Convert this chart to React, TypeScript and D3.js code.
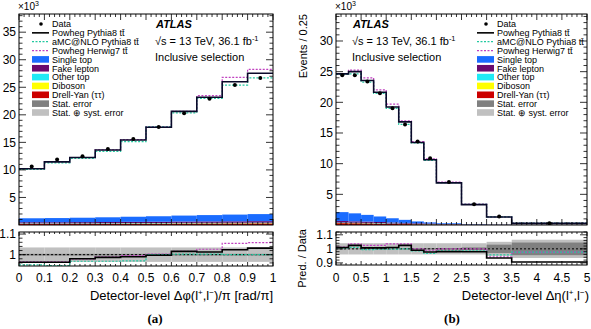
import React from 'react';
import * as d3 from 'd3';

// ---- (a) detector-level delta phi / pi, events in units of 10^3
const phiEdges = [0, 0.1, 0.2, 0.3, 0.4, 0.5, 0.6, 0.7, 0.8, 0.9, 1.0];
const phiData = [10.6, 11.9, 12.5, 13.8, 15.6, 17.8, 20.3, 22.9, 25.4, 26.7];
const phiPowhegPy8 = [10.21, 11.46, 12.25, 13.62, 15.44, 17.75, 20.62, 23.2, 26.01, 27.55];
const phiAmcPy8 = [10.07, 11.27, 12.1, 13.36, 15.13, 17.8, 20.36, 22.97, 25.4, 26.7];
const phiPowhegH7 = [10.23, 11.48, 12.25, 13.66, 15.52, 17.85, 20.62, 23.5, 26.8, 28.25];
const phiSingleTop = [0.72, 0.76, 0.8, 0.86, 0.93, 1.0, 1.08, 1.15, 1.22, 1.28];
const phiFake = [0.2, 0.2, 0.21, 0.21, 0.22, 0.23, 0.24, 0.25, 0.26, 0.27];
const phiOtherTop = [0.06, 0.06, 0.06, 0.07, 0.07, 0.07, 0.08, 0.08, 0.08, 0.09];
const phiDiboson = [0.04, 0.04, 0.04, 0.04, 0.05, 0.05, 0.05, 0.05, 0.05, 0.05];
const phiDrellYan = [0.2, 0.2, 0.21, 0.22, 0.23, 0.24, 0.26, 0.27, 0.28, 0.29];
const phiStatErr = [0.004, 0.004, 0.004, 0.004, 0.004, 0.004, 0.004, 0.004, 0.004, 0.004];
const phiTotErr = [0.035, 0.035, 0.035, 0.035, 0.035, 0.035, 0.035, 0.035, 0.035, 0.035];

// ---- (b) detector-level delta eta, events / 0.25 in units of 10^3
const etaEdges = [0, 0.25, 0.5, 0.75, 1.0, 1.25, 1.5, 1.75, 2.0, 2.5, 3.0, 3.5, 5.0];
const etaData = [24.4, 24.4, 23.4, 21.5, 19.05, 16.4, 13.6, 10.9, 7.0, 3.4, 1.39, 0.3];
const etaPowhegPy8 = [24.64, 25.01, 23.56, 21.65, 19.24, 16.81, 13.46, 10.65, 6.86, 3.33, 1.3, 0.272];
const etaAmcPy8 = [24.57, 24.64, 23.28, 21.46, 19.01, 16.4, 13.4, 10.54, 6.9, 3.35, 1.33, 0.293];
const etaPowhegH7 = [24.69, 25.25, 23.99, 22.04, 19.72, 16.97, 13.6, 10.79, 7.0, 3.4, 1.31, 0.293];
const etaSingleTop = [1.45, 1.3, 1.1, 0.9, 0.7, 0.5, 0.3, 0.18, 0.12, 0.06, 0.03, 0.01];
const etaFake = [0.25, 0.22, 0.2, 0.18, 0.15, 0.12, 0.1, 0.08, 0.05, 0.03, 0.02, 0.01];
const etaOtherTop = [0.07, 0.07, 0.06, 0.06, 0.05, 0.05, 0.04, 0.04, 0.03, 0.02, 0.01, 0.005];
const etaDiboson = [0.03, 0.03, 0.03, 0.03, 0.02, 0.02, 0.02, 0.02, 0.01, 0.01, 0.005, 0.002];
const etaDrellYan = [0.3, 0.28, 0.26, 0.22, 0.18, 0.15, 0.12, 0.1, 0.07, 0.04, 0.02, 0.01];
const etaStatErr = [0.003, 0.003, 0.003, 0.003, 0.003, 0.004, 0.004, 0.005, 0.006, 0.01, 0.03, 0.045];
const etaTotErr = [0.04, 0.04, 0.04, 0.04, 0.04, 0.04, 0.04, 0.04, 0.04, 0.04, 0.05, 0.065];

const legendItems = [
  { label: 'Data', kind: 'dot' },
  { label: 'Powheg Pythia8 tt\u0304', kind: 'line', color: '#000', dash: '' },
  { label: 'aMC@NLO Pythia8 tt\u0304', kind: 'line', color: '#22c9a0', dash: '2,1.5' },
  { label: 'Powheg Herwig7 tt\u0304', kind: 'line', color: '#c040c0', dash: '2,1.5' },
  { label: 'Single top', kind: 'box', color: '#1a6cff' },
  { label: 'Fake lepton', kind: 'box', color: '#6a0a6e' },
  { label: 'Other top', kind: 'box', color: '#20eaf5' },
  { label: 'Diboson', kind: 'box', color: '#ffff00' },
  { label: 'Drell-Yan (\u03c4\u03c4)', kind: 'box', color: '#cc0000' },
  { label: 'Stat. error', kind: 'box', color: '#808080' },
  { label: 'Stat. \u2295 syst. error', kind: 'box', color: '#c0c0c0' },
];

const font = '"Liberation Sans", Arial, Helvetica, sans-serif';

function stepPath(edges: number[], vals: number[], x: any, y: any) {
  const pts: [number, number][] = vals.map((v, i) => [edges[i], v]);
  pts.push([edges[edges.length - 1], vals[vals.length - 1]]);
  return d3.line<[number, number]>()
    .x(d => x(d[0]))
    .y(d => y(d[1]))
    .curve(d3.curveStepAfter)(pts) || '';
}

function Panel(props: any) {
  const { id, edges, data, py8, amc, h7, bkg, statErr, totErr, cfg } = props;
  const { x0, x1, top, bot, rTop, rBot, yMax, rDom, xMajor, xMinor, yLabels, rMajor, rMinor } = cfg;

  const x = d3.scaleLinear().domain([edges[0], edges[edges.length - 1]]).range([x0, x1]);
  const y = d3.scaleLinear().domain([0, yMax]).range([bot, top]);
  const r = d3.scaleLinear().domain(rDom).range([rBot, rTop]);

  const bins = data.map((_: number, i: number) => i);
  const keys = ['dy', 'diboson', 'other', 'fake', 'single'];
  const colors: any = { dy: '#cc0000', diboson: '#ffff00', other: '#20eaf5', fake: '#6a0a6e', single: '#1a6cff' };
  const stacked = d3.stack<number>().keys(keys).value((i, k) => bkg[k][i])(bins);

  const yMinor = d3.range(1, Math.floor(yMax) + 1);
  const rMinorTicks = d3.range(rMinor[0], rDom[1], rMinor[1]);

  const ratio = (arr: number[]) => arr.map((v, i) => v / data[i]);

  return (
    <g fontFamily={font}>
      <defs>
        <clipPath id={id + 'main'}><rect x={x0} y={top} width={x1 - x0} height={bot - top} /></clipPath>
        <clipPath id={id + 'ratio'}><rect x={x0} y={rTop} width={x1 - x0} height={rBot - rTop} /></clipPath>
      </defs>

      {/* main panel */}
      <g clipPath={`url(#${id}main)`}>
        {stacked.map(layer => (
          <g key={layer.key} fill={colors[layer.key]}>
            {layer.map((d, i) => (
              <rect key={i} x={x(edges[i])} width={x(edges[i + 1]) - x(edges[i])}
                y={y(d[1])} height={Math.max(0, y(d[0]) - y(d[1]))} />
            ))}
          </g>
        ))}
        <path d={stepPath(edges, h7, x, y)} fill="none" stroke="#c040c0" strokeWidth={1.2} strokeDasharray="2,1.5" />
        <path d={stepPath(edges, amc, x, y)} fill="none" stroke="#22c9a0" strokeWidth={1.2} strokeDasharray="2,1.5" />
        <path d={stepPath(edges, py8, x, y)} fill="none" stroke="#0a0a2a" strokeWidth={1.6} />
        {data.map((v: number, i: number) => (
          <circle key={i} cx={x((edges[i] + edges[i + 1]) / 2)} cy={y(v)} r={2} fill="#000" />
        ))}
      </g>
      <rect x={x0} y={top} width={x1 - x0} height={bot - top} fill="none" stroke="#000" strokeWidth={1} />

      {/* main y ticks */}
      {yMinor.map((v: number) => {
        const major = v % 5 === 0;
        const len = major ? 7 : 3.5;
        return (
          <g key={v} stroke="#000" strokeWidth={0.8}>
            <line x1={x0} x2={x0 + len} y1={y(v)} y2={y(v)} />
            <line x1={x1} x2={x1 - len} y1={y(v)} y2={y(v)} />
          </g>
        );
      })}
      {yLabels.map((v: number) => (
        <text key={v} x={x0 - 3} y={y(v) + 4.3} textAnchor="end" fontSize={12}>{v}</text>
      ))}
      <text x={x0 - 1} y={10} fontSize={10}>
        ×10<tspan dy={-4} fontSize={7}>3</tspan>
      </text>

      {/* x ticks on main and ratio frames */}
      {d3.range(edges[0], edges[edges.length - 1] + 1e-9, xMinor).map((v: number, i: number) => {
        const major = Math.abs(v / xMajor - Math.round(v / xMajor)) < 1e-6;
        const len = major ? 6 : 3;
        const rl = major ? 4 : 2;
        return (
          <g key={i} stroke="#000" strokeWidth={0.8}>
            <line x1={x(v)} x2={x(v)} y1={bot} y2={bot - len} />
            <line x1={x(v)} x2={x(v)} y1={top} y2={top + len} />
            <line x1={x(v)} x2={x(v)} y1={rBot} y2={rBot - rl} />
            <line x1={x(v)} x2={x(v)} y1={rTop} y2={rTop + rl} />
          </g>
        );
      })}

      {/* ratio panel */}
      <g clipPath={`url(#${id}ratio)`}>
        {bins.map((i: number) => (
          <rect key={'t' + i} x={x(edges[i])} width={x(edges[i + 1]) - x(edges[i])}
            y={r(1 + totErr[i])} height={r(1 - totErr[i]) - r(1 + totErr[i])} fill="#c0c0c0" />
        ))}
        {bins.map((i: number) => (
          <rect key={'s' + i} x={x(edges[i])} width={x(edges[i + 1]) - x(edges[i])}
            y={r(1 + statErr[i])} height={r(1 - statErr[i]) - r(1 + statErr[i])} fill="#808080" />
        ))}
        <line x1={x0} x2={x1} y1={r(1)} y2={r(1)} stroke="#000" strokeWidth={1} strokeDasharray="2,2" />
        <path d={stepPath(edges, ratio(h7), x, r)} fill="none" stroke="#c040c0" strokeWidth={1.2} strokeDasharray="2,1.5" />
        <path d={stepPath(edges, ratio(amc), x, r)} fill="none" stroke="#22c9a0" strokeWidth={1.2} strokeDasharray="2,1.5" />
        <path d={stepPath(edges, ratio(py8), x, r)} fill="none" stroke="#000" strokeWidth={1.6} />
      </g>
      <rect x={x0} y={rTop} width={x1 - x0} height={rBot - rTop} fill="none" stroke="#000" strokeWidth={1} />
      {rMinorTicks.map((v: number, i: number) => {
        const major = rMajor.some((m: number) => Math.abs(m - v) < 1e-6);
        const len = major ? 7 : 3.5;
        return (
          <g key={i} stroke="#000" strokeWidth={0.8}>
            <line x1={x0} x2={x0 + len} y1={r(v)} y2={r(v)} />
            <line x1={x1} x2={x1 - len} y1={r(v)} y2={r(v)} />
          </g>
        );
      })}
      {rMajor.map((v: number) => (
        <text key={v} x={x0 - 3} y={r(v) + 4.3} textAnchor="end" fontSize={12}>{d3.format('~g')(v)}</text>
      ))}
      {d3.range(edges[0], edges[edges.length - 1] + 1e-9, xMajor).map((v: number, i: number) => (
        <text key={i} x={x(v)} y={282} textAnchor="middle" fontSize={12}>{d3.format('~g')(+v.toFixed(3))}</text>
      ))}

      {/* labels */}
      <text x={cfg.atlasX} y={28} fontSize={11} fontWeight="bold" fontStyle="italic">ATLAS</text>
      <text x={cfg.atlasX - 1} y={45} fontSize={11}>
        √s = 13 TeV, 36.1 fb<tspan dy={-4} fontSize={7.5}>-1</tspan>
      </text>
      <text x={cfg.atlasX - 1} y={61} fontSize={11}>Inclusive selection</text>

      {legendItems.map((it, i) => {
        const ly = 24 + i * 8.85;
        const lx = cfg.legX;
        return (
          <g key={it.label}>
            {it.kind === 'dot' && <circle cx={lx + 9} cy={ly} r={1.8} fill="#000" />}
            {it.kind === 'line' && (
              <line x1={lx} x2={lx + 17} y1={ly} y2={ly} stroke={it.color} strokeWidth={it.dash ? 1.2 : 1.6}
                strokeDasharray={it.dash} />
            )}
            {it.kind === 'box' && <rect x={lx} y={ly - 3.3} width={17} height={6.6} fill={it.color} />}
            <text x={lx + 20} y={ly + 3.3} fontSize={9}>{it.label}</text>
          </g>
        );
      })}

      <text x={cfg.titleX} y={300} textAnchor="end" fontSize={13}>
        {cfg.titlePre}(l<tspan dy={-5} fontSize={8}>+</tspan>
        <tspan dy={5}>,l</tspan><tspan dy={-5} fontSize={8}>−</tspan>
        <tspan dy={5}>{cfg.titlePost}</tspan>
      </text>
      <text x={cfg.tagX} y={323} textAnchor="middle" fontSize={13} fontWeight="bold"
        fontFamily='"Liberation Serif", "Times New Roman", serif'>{cfg.tag}</text>
    </g>
  );
}

export default function App() {
  const leftCfg = {
    x0: 19, x1: 273, top: 14, bot: 225, rTop: 232, rBot: 266, yMax: 38.3,
    rDom: [0.945, 1.11], xMajor: 0.1, xMinor: 0.02, yLabels: [5, 10, 15, 20, 25, 30, 35],
    rMajor: [1, 1.1], rMinor: [0.96, 0.02], legX: 32, atlasX: 156,
    titleX: 273, titlePre: 'Detector-level Δφ', titlePost: ')/π [rad/π]', tag: '(a)', tagX: 155,
  };
  const rightCfg = {
    x0: 336, x1: 587, top: 14, bot: 225, rTop: 232, rBot: 265, yMax: 34.4,
    rDom: [0.885, 1.12], xMajor: 0.5, xMinor: 0.1, yLabels: [5, 10, 15, 20, 25, 30],
    rMajor: [0.9, 1, 1.1], rMinor: [0.9, 0.02], legX: 477, atlasX: 353,
    titleX: 589, titlePre: 'Detector-level Δη', titlePost: ')', tag: '(b)', tagX: 452,
  };

  return (
    <svg width={591} height={329} style={{ position: 'absolute', left: 0, top: 0, background: '#fff' }}>
      <Panel id="phi" edges={phiEdges} data={phiData} py8={phiPowhegPy8} amc={phiAmcPy8} h7={phiPowhegH7}
        bkg={{ single: phiSingleTop, fake: phiFake, other: phiOtherTop, diboson: phiDiboson, dy: phiDrellYan }}
        statErr={phiStatErr} totErr={phiTotErr} cfg={leftCfg} />
      <Panel id="eta" edges={etaEdges} data={etaData} py8={etaPowhegPy8} amc={etaAmcPy8} h7={etaPowhegH7}
        bkg={{ single: etaSingleTop, fake: etaFake, other: etaOtherTop, diboson: etaDiboson, dy: etaDrellYan }}
        statErr={etaStatErr} totErr={etaTotErr} cfg={rightCfg} />
      <text x={307} y={14} transform="rotate(-90 307 14)" textAnchor="end" fontSize={11} fontFamily={font}>
        Events / 0.25
      </text>
      <text x={306} y={229} transform="rotate(-90 306 229)" textAnchor="end" fontSize={11} fontFamily={font}>
        Pred. / Data
      </text>
    </svg>
  );
}
